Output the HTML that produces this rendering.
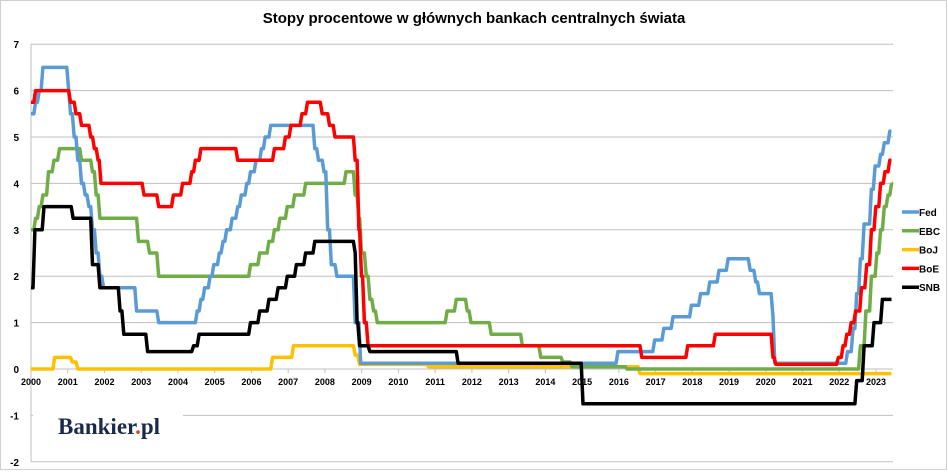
<!DOCTYPE html>
<html><head><meta charset="utf-8"><style>
html,body{margin:0;padding:0;background:#fff;}
svg{display:block;font-family:"Liberation Sans",sans-serif;}
</style></head><body>
<svg id="chart" width="948" height="474" viewBox="0 0 948 474">
<rect x="0.5" y="0.5" width="946" height="469" fill="#fff" stroke="#d0d0d0"/>
<text x="474" y="23" text-anchor="middle" font-size="15" font-weight="bold" fill="#000">Stopy procentowe w głównych bankach centralnych świata</text>
<g id="grid"></g>
<g>
<rect x="33" y="410" width="150" height="34" fill="#fff"/>
<text x="58" y="434" font-family="Liberation Serif,serif" font-weight="bold" font-size="23" fill="#1b2a4a">Bankier<tspan fill="#e0452a">.</tspan>pl</text>
</g>
<g id="series"></g>
<g id="legend"></g>
</svg>
<script>
var yTicks=[7,6,5,4,3,2,1,0,-1,-2];
var xYears=[2000,2001,2002,2003,2004,2005,2006,2007,2008,2009,2010,2011,2012,2013,2014,2015,2016,2017,2018,2019,2020,2021,2022,2023];
var seriesNames=["Fed","EBC","BoJ","BoE","SNB"];
var seriesColors=["#5b9bd5","#70ad47","#ffc000","#ff0000","#000000"];
var endYear=2023.42;
var fedT=[2000,2000.1,2000.2,2000.3,2001.0,2001.05,2001.15,2001.25,2001.35,2001.45,2001.55,2001.65,2001.75,2001.85,2001.95,2002.85,2003.45,2004.5,2004.6,2004.7,2004.85,2004.95,2005.1,2005.2,2005.3,2005.45,2005.6,2005.7,2005.85,2005.95,2006.1,2006.25,2006.35,2006.5,2007.7,2007.8,2007.95,2008.05,2008.15,2008.3,2008.8,2008.95,2015.95,2016.95,2017.2,2017.45,2017.95,2018.2,2018.45,2018.7,2018.95,2019.55,2019.7,2019.8,2020.17,2020.22,2022.2,2022.35,2022.45,2022.55,2022.65,2022.85,2022.95,2023.1,2023.2,2023.35];
var fedV=[5.5,5.75,6,6.5,6,5.5,5,4.5,4,3.75,3.5,3,2.5,2,1.75,1.25,1,1.25,1.5,1.75,2,2.25,2.5,2.75,3,3.25,3.5,3.75,4,4.25,4.5,4.75,5,5.25,4.75,4.5,4.25,3,2.25,2,1,0.125,0.375,0.625,0.875,1.125,1.375,1.625,1.875,2.125,2.375,2.125,1.875,1.625,1.125,0.125,0.375,0.875,1.625,2.375,3.125,3.875,4.375,4.625,4.875,5.125];
var ebcT=[2000,2000.1,2000.2,2000.3,2000.45,2000.6,2000.75,2001.35,2001.65,2001.75,2001.85,2002.9,2003.2,2003.45,2005.95,2006.2,2006.45,2006.6,2006.75,2006.95,2007.15,2007.45,2008.55,2008.8,2008.9,2008.97,2009.1,2009.2,2009.3,2009.4,2011.3,2011.55,2011.85,2011.95,2012.5,2013.35,2013.85,2014.45,2014.7,2016.2,2022.55,2022.7,2022.85,2023.0,2023.1,2023.2,2023.3,2023.4];
var ebcV=[3,3.25,3.5,3.75,4.25,4.5,4.75,4.5,4.25,3.75,3.25,2.75,2.5,2,2.25,2.5,2.75,3,3.25,3.5,3.75,4,4.25,3.75,3.25,2.5,2,1.5,1.25,1,1.25,1.5,1.25,1,0.75,0.5,0.25,0.15,0.05,0,0.5,1.25,2,2.5,3,3.5,3.75,4];
var bojT=[2000,2000.62,2001.1,2001.25,2006.55,2007.12,2008.8,2008.92,2010.8,2016.55];
var bojV=[0,0.25,0.15,0,0.25,0.5,0.3,0.1,0.05,-0.1];
var boeT=[2000,2000.1,2001.05,2001.2,2001.35,2001.6,2001.7,2001.8,2001.88,2003.05,2003.45,2003.85,2004.1,2004.35,2004.45,2004.6,2005.6,2006.6,2006.9,2007.05,2007.35,2007.5,2007.9,2008.1,2008.25,2008.8,2008.9,2008.97,2009.05,2009.15,2016.6,2017.85,2018.6,2020.17,2020.25,2021.95,2022.08,2022.18,2022.3,2022.42,2022.58,2022.72,2022.85,2022.97,2023.1,2023.22,2023.35];
var boeV=[5.75,6,5.75,5.5,5.25,5,4.75,4.5,4,3.75,3.5,3.75,4,4.25,4.5,4.75,4.5,4.75,5,5.25,5.5,5.75,5.5,5.25,5,4.5,3,2,1,0.5,0.25,0.5,0.75,0.25,0.1,0.25,0.5,0.75,1,1.25,1.75,2.25,3,3.5,4,4.25,4.5];
var snbT=[2000,2000.08,2000.33,2001.12,2001.65,2001.85,2002.4,2002.5,2003.15,2004.4,2004.55,2005.95,2006.2,2006.45,2006.7,2006.95,2007.2,2007.45,2007.7,2008.8,2008.85,2008.92,2009.2,2011.6,2015.0,2022.45,2022.65,2022.92,2023.15];
var snbV=[1.75,3,3.5,3.25,2.25,1.75,1.25,0.75,0.375,0.5,0.75,1,1.25,1.5,1.75,2,2.25,2.5,2.75,2.5,1,0.5,0.375,0.125,-0.75,-0.25,0.5,1,1.5];

var NS="http://www.w3.org/2000/svg";
function X(yr){return 31+(yr-2000)*36.74;}
function Y(v){return 369-v*46.4;}
function mk(tag,attrs,parent){var e=document.createElementNS(NS,tag);for(var k in attrs)e.setAttribute(k,attrs[k]);parent.appendChild(e);return e;}
var grid=document.getElementById('grid');
yTicks.forEach(function(t){
  if(t!==0){var g=mk('line',{x1:31,x2:893,y1:Y(t),y2:Y(t),stroke:'#bfbfbf','stroke-width':1},grid);
  
  }
  var tx=mk('text',{x:19,y:Y(t)+4,'text-anchor':'end','font-size':10,'font-weight':'bold',fill:'#000'},grid);
  tx.textContent=t;
  
  
});
var ax=mk('line',{x1:31,x2:31,y1:Y(7),y2:Y(-2),stroke:'#bfbfbf','stroke-width':1},grid);


var xa=mk('line',{x1:31,x2:893,y1:369,y2:369,stroke:'#bfbfbf','stroke-width':1},grid);


xYears.forEach(function(yr){
  mk('line',{x1:X(yr),x2:X(yr),y1:369,y2:373,stroke:'#bfbfbf'},grid);
  var tx=mk('text',{x:X(yr),y:385,'text-anchor':'middle','font-size':9,'font-weight':'bold',fill:'#000'},grid);
  tx.textContent=yr;
  
  
});
var sg=document.getElementById('series');
var allT=[fedT,ebcT,bojT,boeT,snbT], allV=[fedV,ebcV,bojV,boeV,snbV];
var order=[2,1,0,3,4];
var h=0.025;
order.forEach(function(i){
  var T=allT[i],V=allV[i];
  var d='M'+X(T[0]).toFixed(1)+' '+Y(V[0]).toFixed(1);
  for(var j=1;j<T.length;j++){
    d+='L'+X(T[j]-h).toFixed(1)+' '+Y(V[j-1]).toFixed(1);
    d+='L'+X(T[j]+h).toFixed(1)+' '+Y(V[j]).toFixed(1);
  }
  d+='L'+X(endYear).toFixed(1)+' '+Y(V[V.length-1]).toFixed(1);
  var p=mk('path',{d:d,fill:'none',stroke:seriesColors[i],'stroke-width':3.5,'stroke-linejoin':'round'},sg);
  
  
});
var lg=document.getElementById('legend');
seriesNames.forEach(function(n,i){
  var y=212+i*18.8;
  var g=mk('g',{},lg);
  
  
  mk('line',{x1:902,x2:919,y1:y,y2:y,stroke:seriesColors[i],'stroke-width':3.5},g);
  var t=mk('text',{x:919,y:y+4,'font-size':10,'font-weight':'bold',fill:'#000'},g);
  t.textContent=n;
});
</script>
</body></html>
